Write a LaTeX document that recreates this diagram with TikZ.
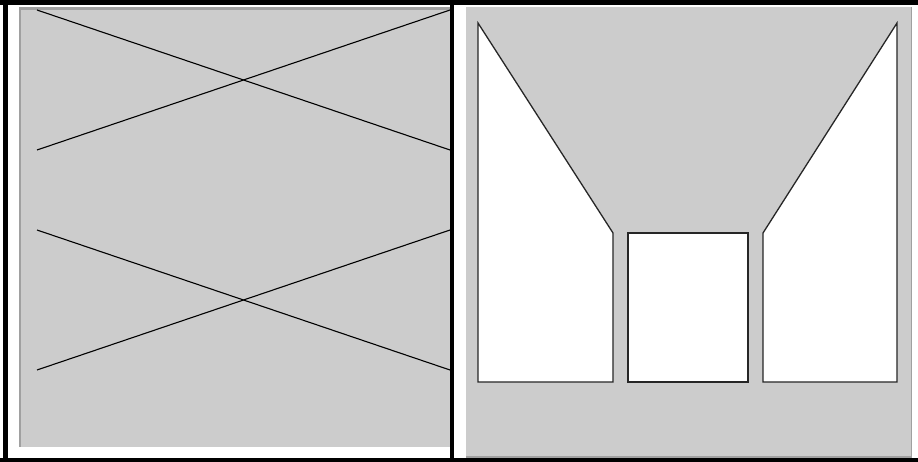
\documentclass[tikz,border=0pt]{standalone}
\begin{document}
\begin{tikzpicture}[x=1pt,y=-1pt,
  panel/.style={fill=panelgray,draw=none},
  edge/.style={draw=edgegray,line width=2.5pt},
  xline/.style={draw=black,line width=1.1pt},
  whiteshape/.style={fill=white,draw=black!85,line width=1.3pt,line join=miter},
  frame/.style={draw=black,line width=4.5pt}]
\definecolor{panelgray}{RGB}{204,204,204}
\definecolor{edgegray}{RGB}{160,160,160}
\useasboundingbox (0,0) rectangle (918,462);
\fill[white] (0,0) rectangle (918,462);
% left panel
\fill[panel] (19,7) rectangle (450,447);
\draw[edge] (20.2,7) -- (20.2,447);
\draw[edge] (19,8.5) -- (450,8.5);
% right panel
\fill[panel] (466,7) rectangle (912,458);
\draw[draw=edgegray,line width=1.5pt] (911.5,7) -- (911.5,458);
\draw[draw=edgegray,line width=1.5pt] (466,457) -- (912,457);
% X lines
\coordinate (a1) at (37,10);  \coordinate (a2) at (450,150);
\coordinate (b1) at (37,150); \coordinate (b2) at (450,10);
\coordinate (c1) at (37,230); \coordinate (c2) at (450,370);
\coordinate (d1) at (37,370); \coordinate (d2) at (450,230);
\draw[xline] (a1) -- (a2);
\draw[xline] (b1) -- (b2);
\draw[xline] (c1) -- (c2);
\draw[xline] (d1) -- (d2);
% white shapes
\draw[whiteshape] (478,23) -- (613,233) -- (613,382) -- (478,382) -- cycle;
\draw[whiteshape] (628,233) rectangle (748,382);
\draw[whiteshape] (897,23) -- (763,233) -- (763,382) -- (897,382) -- cycle;
% frame
\draw[frame] (0,2.5) -- (918,2.5);
\draw[frame] (0,459.8) -- (918,459.8);
\draw[frame] (5.3,0) -- (5.3,462);
\draw[frame] (452.2,0) -- (452.2,462);
\end{tikzpicture}
\end{document}
